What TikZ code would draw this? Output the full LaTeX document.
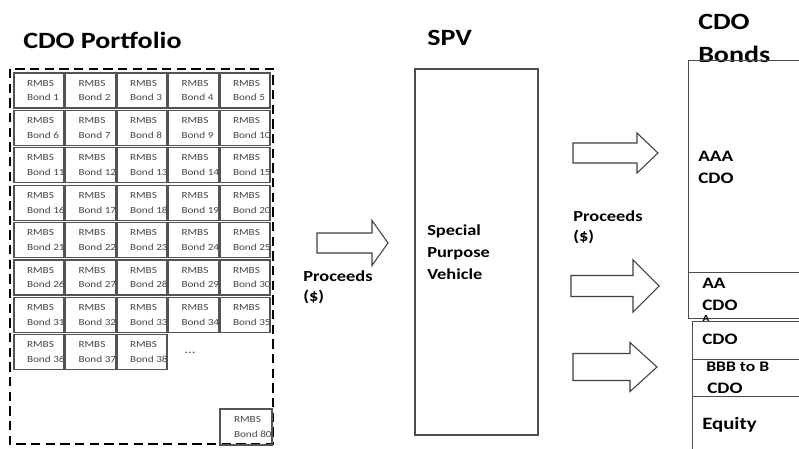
\documentclass[tikz,border=0pt]{standalone}
\usepackage{fontspec}
\setmainfont{Carlito}[FakeStretch=1.2]
\newcommand\blockarrow[6]{% tip x, centre y, total length, head length, shaft half-height, head half-height
  \draw[blk] ({#1-#3},{#2-#5}) -- ({#1-#4},{#2-#5}) -- ({#1-#4},{#2-#6}) -- (#1,#2)
    -- ({#1-#4},{#2+#6}) -- ({#1-#4},{#2+#5}) -- ({#1-#3},{#2+#5}) -- cycle;}
\begin{document}
\begin{tikzpicture}[x=0.75pt,y=-0.75pt,
  bond/.style={draw=gray!65!black, line width=0.8pt, minimum width=37.5pt, minimum height=26.25pt,
    inner sep=0pt, font=\fontsize{7}{11}\selectfont, text=gray!55!black, align=center},
  title/.style={font=\fontsize{17.5}{24.75}\selectfont\bfseries, anchor=west, inner sep=0pt, align=left},
  lbl/.style={font=\fontsize{11.5}{15}\selectfont\bfseries, anchor=west, inner sep=0pt, align=left},
  tlbl/.style={font=\fontsize{12}{16.5}\selectfont\bfseries, anchor=west, inner sep=0pt, align=left},
  tranche/.style={draw=gray!60!black, line width=0.9pt, inner sep=0pt, anchor=north west},
  blk/.style={draw=gray!50!black, line width=0.8pt, fill=white}]
\useasboundingbox (0,0) rectangle (799,449);
\clip (0,0) rectangle (799,449);

% ---- titles
\node[title] (tport) at (23,40) {CDO Portfolio};
\node[title] (tspv) at (427,38) {SPV};
\node[title] (tbonds) at (698,38.5) {CDO\\Bonds};

% ---- portfolio
\draw[line width=1.8pt, dash pattern=on 7pt off 4pt] (10,69) rectangle (273,444);
\foreach \n in {1,...,38} {
  \pgfmathtruncatemacro\r{(\n-1)/5}
  \pgfmathtruncatemacro\c{mod(\n-1,5)}
  \node[bond] (b\n) at ({39+51.5*\c},{90.5+37.4*\r})
    {\makebox[18pt][l]{RMBS}\\\makebox[18pt][l]{Bond \n}};
}
\node[font=\fontsize{9}{9}\selectfont, text=gray!55!black] (dots) at (190,353) {\dots};
\node[bond, minimum width=39pt, minimum height=27pt] (b80) at (246,427)
  {\makebox[18pt][l]{RMBS}\\\makebox[18pt][l]{Bond 80}};

% ---- arrow to SPV
\blockarrow{388}{243}{71}{16}{10}{22.5}
\node[lbl] (proc1) at (303,287) {Proceeds\\(\$)};

% ---- SPV
\node[draw=gray!60!black, line width=0.8pt, minimum width=92.25pt, minimum height=274.5pt,
  inner sep=0pt] (spv) at (476.5,252) {};
\node[font=\fontsize{11.5}{16.5}\selectfont\bfseries, anchor=west, inner sep=0pt, align=left]
  (spvtxt) at (427,252) {Special\\Purpose\\Vehicle};

% ---- arrows to tranches
\blockarrow{658}{153}{85}{21}{10}{20}
\blockarrow{659}{286}{88}{26}{10.5}{26}
\blockarrow{657}{367}{84}{27}{13.5}{24.5}
\node[lbl] (proc2) at (573,227) {Proceeds\\(\$)};

% ---- tranches
\node[tranche, minimum width=99pt, minimum height=159pt] (aaa) at (688,60) {};
\node[tranche, minimum width=99pt, minimum height=34.5pt] (aa) at (688,272) {};
\node[tranche, minimum width=99pt, minimum height=28.5pt] (a) at (692,321) {};
\node[tranche, minimum width=99pt, minimum height=27.75pt] (bbb) at (692,359) {};
\node[tranche, minimum width=99pt, minimum height=60pt] (eq) at (692,396) {};

\node[tlbl] (taaa) at (698,167) {AAA\\CDO};
\node[tlbl] (taa) at (702,294) {AA\\CDO};
\node[font=\fontsize{7}{7}\selectfont\bfseries, inner sep=0pt] (ta) at (706,318) {A};
\node[tlbl] (tacdo) at (702,339) {CDO};
\node[font=\fontsize{11}{11}\selectfont\bfseries, anchor=west, inner sep=0pt] (tbbb) at (706,367) {BBB to B};
\node[tlbl] (tbcdo) at (707,388) {CDO};
\node[font=\fontsize{13}{13}\selectfont\bfseries, anchor=west, inner sep=0pt] (teq) at (702,425) {Equity};
\end{tikzpicture}
\end{document}
